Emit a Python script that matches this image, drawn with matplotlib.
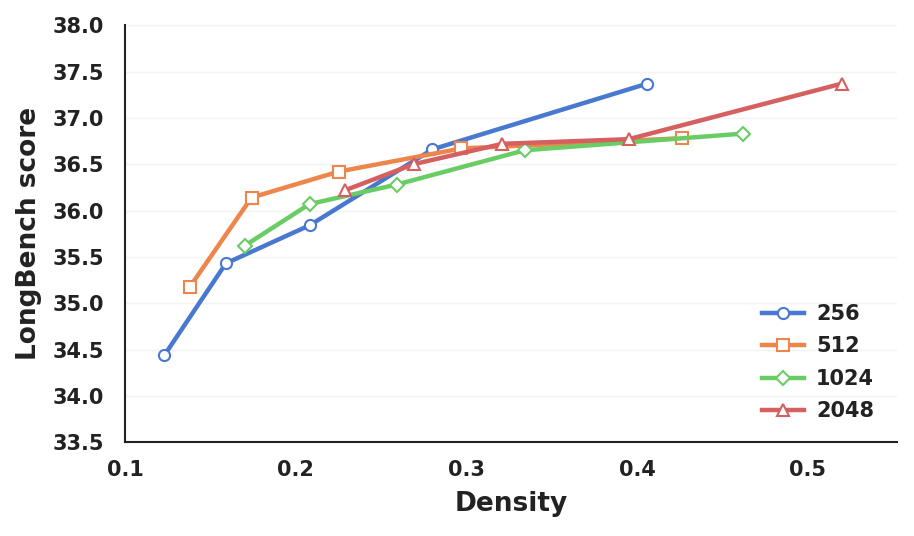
import matplotlib
matplotlib.use("Agg")
import matplotlib.pyplot as plt

# data
x_256 = [0.123, 0.159, 0.208, 0.280, 0.406]
y_256 = [34.44, 35.43, 35.84, 36.66, 37.37]

x_512 = [0.138, 0.174, 0.225, 0.297, 0.426]
y_512 = [35.18, 36.14, 36.42, 36.67, 36.78]

x_1024 = [0.170, 0.208, 0.259, 0.334, 0.462]
y_1024 = [35.62, 36.07, 36.28, 36.65, 36.83]

x_2048 = [0.229, 0.269, 0.321, 0.395, 0.520]
y_2048 = [36.22, 36.50, 36.72, 36.77, 37.37]

series = [
    ("256", x_256, y_256, "o", "#4878d0"),
    ("512", x_512, y_512, "s", "#ee854a"),
    ("1024", x_1024, y_1024, "D", "#6acc64"),
    ("2048", x_2048, y_2048, "^", "#d65f5f"),
]

plt.rcParams["font.family"] = "DejaVu Sans"
plt.rcParams["font.weight"] = "bold"

fig = plt.figure(figsize=(9.14, 5.36), dpi=100)
ax = fig.add_axes([0.137, 0.175, 0.844, 0.778])

for name, xs, ys, mk, col in series:
    ms = 7 if mk == "D" else 8
    ax.plot(xs, ys, marker=mk, color=col, lw=3.2, ms=ms,
            mfc="white", mec=col, mew=1.5, label=name)

ax.set_xlim(0.1, 0.552)
ax.set_ylim(33.5, 38.0)
ax.set_xticks([0.1, 0.2, 0.3, 0.4, 0.5])
ax.set_yticks([33.5 + 0.5 * i for i in range(10)])
ax.set_yticklabels([f"{33.5 + 0.5 * i:.1f}" for i in range(10)])

ax.grid(axis="y", color="#f3f3f3", lw=1)
ax.set_axisbelow(True)
for s in ["top", "right"]:
    ax.spines[s].set_visible(False)
for s in ["left", "bottom"]:
    ax.spines[s].set_color("#222222")
    ax.spines[s].set_linewidth(1.5)

ax.tick_params(length=0, labelsize=15, colors="#222222")
ax.tick_params(axis="y", pad=15)
ax.tick_params(axis="x", pad=13)
for lab in ax.get_xticklabels() + ax.get_yticklabels():
    lab.set_fontweight("bold")

ax.set_xlabel("Density", fontsize=19, fontweight="bold", color="#222222", labelpad=8)
ax.set_ylabel("LongBench score", fontsize=19, fontweight="bold", color="#222222", labelpad=8)

leg = ax.legend(loc="lower right", frameon=False, fontsize=15,
                handlelength=2.0, handletextpad=0.6, labelspacing=0.6,
                bbox_to_anchor=(0.995, 0.005))
for t in leg.get_texts():
    t.set_fontweight("bold")
    t.set_color("#222222")

fig.savefig("out.png", dpi=100)
